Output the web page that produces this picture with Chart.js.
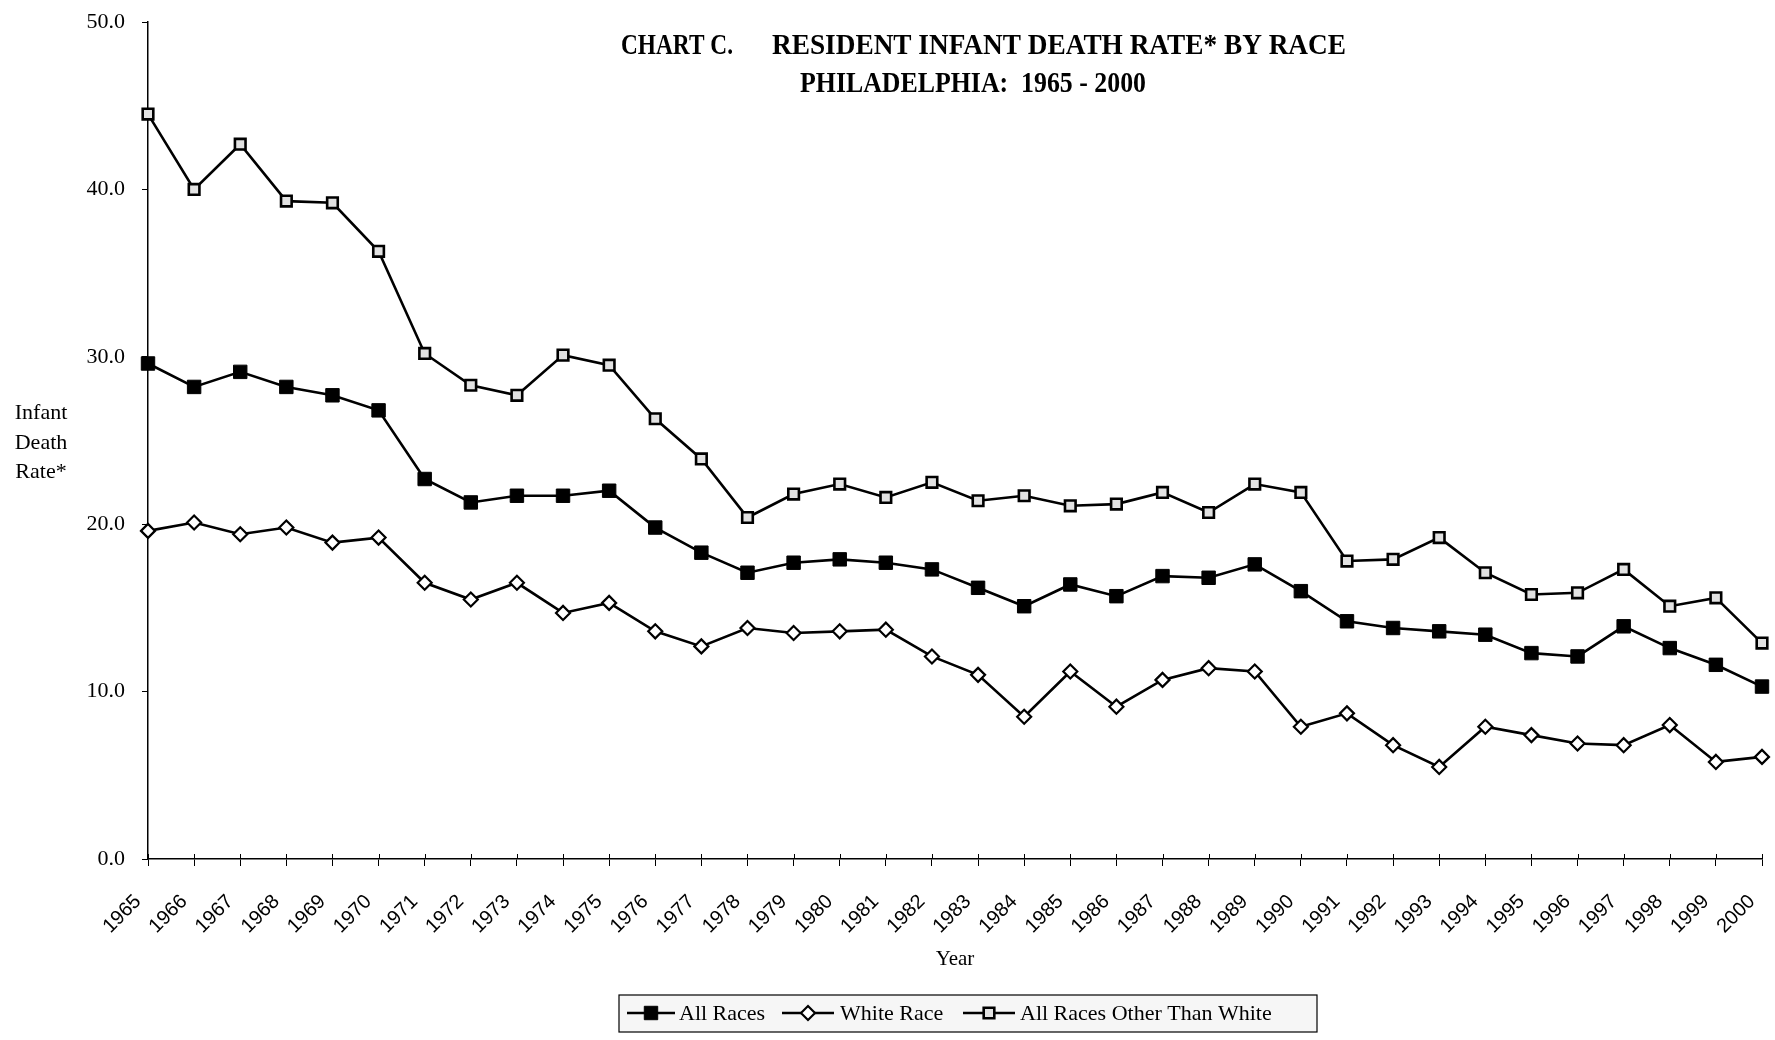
<!DOCTYPE html>
<html>
<head>
<meta charset="utf-8">
<script src="https://cdn.jsdelivr.net/npm/chart.js@4.4.1/dist/chart.umd.min.js"></script>
<style>
  html, body { margin: 0; padding: 0; background: #fff; }
  #wrap { width: 1775px; height: 1040px; }
</style>
</head>
<body>
<div id="wrap"><canvas id="chart"></canvas></div>
<script>
// years on the x axis
const years = ['1965','1966','1967','1968','1969','1970','1971','1972','1973','1974','1975','1976',
  '1977','1978','1979','1980','1981','1982','1983','1984','1985','1986','1987','1988',
  '1989','1990','1991','1992','1993','1994','1995','1996','1997','1998','1999','2000'];

// infant death rates
const allRaces = [29.6, 28.2, 29.1, 28.2, 27.7, 26.8, 22.7, 21.3, 21.7, 21.7, 22.0, 19.8,
  18.3, 17.1, 17.7, 17.9, 17.7, 17.3, 16.2, 15.1, 16.4, 15.7, 16.9, 16.8,
  17.6, 16.0, 14.2, 13.8, 13.6, 13.4, 12.3, 12.1, 13.9, 12.6, 11.6, 10.3];
const whiteRace = [19.6, 20.1, 19.4, 19.8, 18.9, 19.2, 16.5, 15.5, 16.5, 14.7, 15.3, 13.6,
  12.7, 13.8, 13.5, 13.6, 13.7, 12.1, 11.0, 8.5, 11.2, 9.1, 10.7, 11.4,
  11.2, 7.9, 8.7, 6.8, 5.5, 7.9, 7.4, 6.9, 6.8, 8.0, 5.8, 6.1];
const otherRaces = [44.5, 40.0, 42.7, 39.3, 39.2, 36.3, 30.2, 28.3, 27.7, 30.1, 29.5, 26.3,
  23.9, 20.4, 21.8, 22.4, 21.6, 22.5, 21.4, 21.7, 21.1, 21.2, 21.9, 20.7,
  22.4, 21.9, 17.8, 17.9, 19.2, 17.1, 15.8, 15.9, 17.3, 15.1, 15.6, 12.9];

const titleMain = 'CHART C.';
const titleRest = 'RESIDENT INFANT DEATH RATE* BY RACE';
const subTitle = 'PHILADELPHIA:  1965 - 2000';
const yTitle = ['Infant', 'Death', 'Rate*'];

const serif = '"Liberation Serif", "Times New Roman", serif';

// title, horizontal y title, crossing x ticks and the boxed legend
const decorations = {
  id: 'decorations',
  afterDraw(chart) {
    const ctx = chart.ctx;
    ctx.save();

    // x tick marks cross the axis line
    const xs = chart.scales.x;
    ctx.strokeStyle = '#000';
    ctx.lineWidth = 1;
    xs.ticks.forEach((t, i) => {
      const px = Math.round(xs.getPixelForTick(i)) + 0.5;
      ctx.beginPath();
      ctx.moveTo(px, xs.top - 5);
      ctx.lineTo(px, xs.top);
      ctx.stroke();
    });

    ctx.fillStyle = '#000';
    ctx.textBaseline = 'alphabetic';
    ctx.font = 'bold 29px ' + serif;
    ctx.textAlign = 'left';
    ctx.fillText(titleMain, 621, 54, 112);
    ctx.fillText(titleRest, 772, 54, 574);
    ctx.fillText(subTitle, 800, 92, 346);

    ctx.font = '22px ' + serif;
    ctx.textAlign = 'center';
    yTitle.forEach((t, i) => ctx.fillText(t, 41, 419 + i * 29.5));

    // legend box
    ctx.fillStyle = '#f6f6f6';
    ctx.fillRect(619, 995, 698, 37);
    ctx.strokeStyle = '#000';
    ctx.lineWidth = 1.2;
    ctx.strokeRect(619, 995, 698, 37);

    const slots = [[627, 675, 679], [782, 834, 840], [963, 1015, 1020]];
    const cy = 1013;
    chart.data.datasets.forEach((ds, i) => {
      const [x0, x1, tx] = slots[i];
      ctx.strokeStyle = ds.borderColor;
      ctx.lineWidth = ds.borderWidth;
      ctx.beginPath();
      ctx.moveTo(x0, cy);
      ctx.lineTo(x1, cy);
      ctx.stroke();
      ctx.fillStyle = ds.pointBackgroundColor;
      ctx.strokeStyle = ds.pointBorderColor;
      ctx.lineWidth = ds.pointBorderWidth;
      Chart.helpers.drawPoint(ctx, {
        pointStyle: ds.pointStyle, radius: ds.pointRadius, rotation: 0, borderWidth: ds.pointBorderWidth
      }, (x0 + x1) / 2, cy);
      ctx.fillStyle = '#000';
      ctx.font = '22px ' + serif;
      ctx.textAlign = 'left';
      ctx.fillText(ds.label, tx, 1020);
    });
    ctx.restore();
  }
};

new Chart(document.getElementById('chart'), {
  type: 'line',
  data: {
    labels: years,
    datasets: [
      {
        label: 'All Races', data: allRaces,
        borderColor: '#000', borderWidth: 2.6,
        pointStyle: 'rect', pointRadius: 9.5, pointBorderWidth: 1,
        pointBackgroundColor: '#000', pointBorderColor: '#000'
      },
      {
        label: 'White Race', data: whiteRace,
        borderColor: '#000', borderWidth: 2.6,
        pointStyle: 'rectRot', pointRadius: 7, pointBorderWidth: 2.2,
        pointBackgroundColor: '#fff', pointBorderColor: '#000'
      },
      {
        label: 'All Races Other Than White', data: otherRaces,
        borderColor: '#000', borderWidth: 2.6,
        pointStyle: 'rect', pointRadius: 7.5, pointBorderWidth: 2.6,
        pointBackgroundColor: '#e2e2e2', pointBorderColor: '#000'
      }
    ]
  },
  options: {
    responsive: true,
    maintainAspectRatio: false,
    animation: false,
    layout: { padding: { left: 0, right: 13, top: 22, bottom: 0 } },
    plugins: {
      legend: { display: false },
      tooltip: { enabled: false }
    },
    scales: {
      x: {
        afterFit: s => { s.height = 181; s.paddingLeft = 0; s.paddingRight = 0; },
        ticks: {
          autoSkip: false, minRotation: 45, maxRotation: 45, padding: 24, labelOffset: -10,
          color: '#000', font: { family: '"Liberation Sans", Arial, sans-serif', size: 20 }
        },
        grid: { drawOnChartArea: false, tickLength: 7, color: '#000' },
        border: { color: '#000', width: 1.5 },
        title: {
          display: true, text: 'Year', color: '#000',
          font: { family: serif, size: 21 }, padding: { top: 12, bottom: 68 }
        }
      },
      y: {
        afterFit: s => { s.width = 148; s.paddingTop = 0; s.paddingBottom = 0; },
        min: 0, max: 50,
        ticks: {
          stepSize: 10, padding: 17, color: '#000',
          font: { family: serif, size: 22 },
          callback: v => v.toFixed(1)
        },
        grid: { drawOnChartArea: false, tickLength: 6, color: '#000' },
        border: { color: '#000', width: 1.5 }
      }
    }
  },
  plugins: [decorations]
});
</script>
</body>
</html>
